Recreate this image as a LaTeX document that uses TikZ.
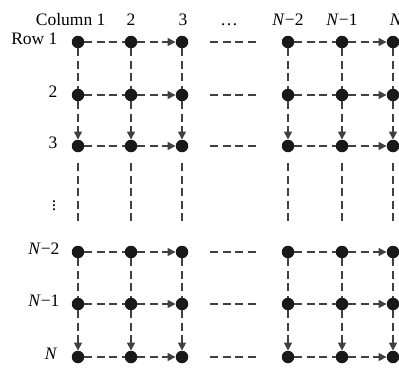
\documentclass[tikz,border=0pt]{standalone}
\usepackage{fontspec}
\setmainfont{Liberation Serif}
\usepackage{tikz}
\usetikzlibrary{positioning, arrows.meta, calc}

\begin{document}
\begin{tikzpicture}[x=1pt, y=-1pt,
  every node/.style={font=\fontsize{17.5}{20}\selectfont},
  dot/.style={circle, fill=black!90, inner sep=0pt, minimum size=12.5pt},
  link/.style={dashed, dash pattern=on 8pt off 4.5pt, line width=1.5pt, black!75},
  arrow/.style={link, -{Triangle[length=8pt, width=8pt]}},
  rowlab/.style={anchor=mid east},
  collab/.style={anchor=base}]
\useasboundingbox (0,0) rectangle (399,367);
% grid of dots
\foreach \x [count=\c] in {78,131,182,288,342,393}
  \foreach \y [count=\r] in {42,95,146,252,304,357}
    \node[dot] (r\r c\c) at (\x,\y) {};
% column labels
\node[collab, anchor=base east] (col1) at (109,25) {Column 1};
\node[collab] (col2) at (131,25) {2};
\node[collab] (col3) at (183,25) {3};
\node[collab] (coldots) at (229,25) {\dots};
\node[collab] (col4) at (288,25) {\textit{N}−2};
\node[collab] (col5) at (342,25) {\textit{N}−1};
\node[collab] (col6) at (396,25) {\textit{N}};
% row labels
\node[rowlab] (row1) at (61,42) {Row 1};
\node[rowlab] (row2) at (61,95) {2};
\node[rowlab] (row3) at (61,146) {3};
\node (rowdots) at (54,203) {\vdots};
\node[rowlab] (row4) at (63,252) {\textit{N}−2};
\node[rowlab] (row5) at (63,304) {\textit{N}−1};
\node[rowlab] (row6) at (61,357) {\textit{N}};
% horizontal links
\foreach \r in {1,...,6} {
  \draw[link] (r\r c1) -- (r\r c2);
  \draw[arrow] (r\r c2) -- (r\r c3);
  \draw[link] ([xshift=28pt]r\r c3.center) -- ([xshift=-30pt]r\r c4.center);
  \draw[link] (r\r c4) -- (r\r c5);
  \draw[arrow] (r\r c5) -- (r\r c6);
}
% vertical links
\foreach \c in {1,...,6} {
  \draw[link] (r1c\c) -- (r2c\c);
  \draw[arrow] (r2c\c) -- (r3c\c);
  \draw[link] ([yshift=-17pt]r3c\c.center) -- ([yshift=29pt]r4c\c.center);
  \draw[link] (r4c\c) -- (r5c\c);
  \draw[arrow] (r5c\c) -- (r6c\c);
}
\end{tikzpicture}
\end{document}
